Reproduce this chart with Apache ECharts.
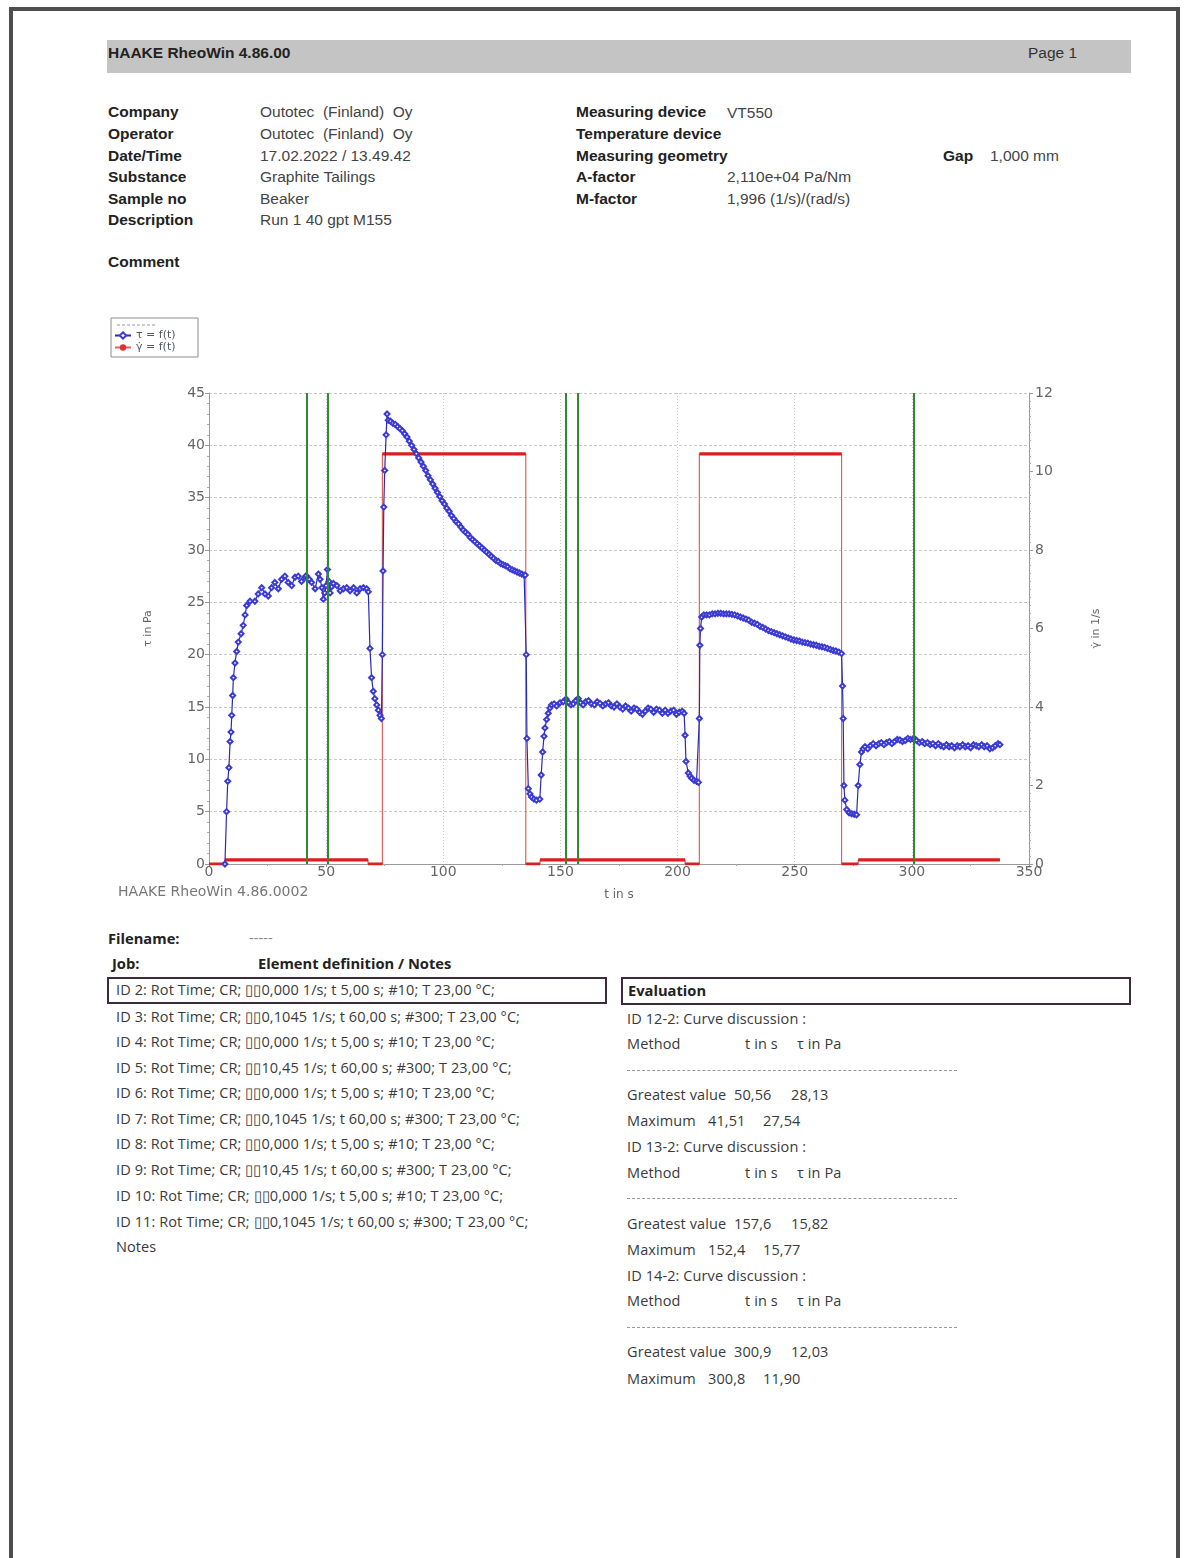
<!DOCTYPE html>
<html>
<head>
<meta charset="utf-8">
<script src="https://cdn.jsdelivr.net/npm/echarts@6/dist/echarts.min.js"></script>
<style>
  html, body { margin:0; padding:0; background:#fff; }
  body { width:1184px; height:1558px; position:relative; overflow:hidden; }
  .frame { position:absolute; left:9px; top:7px; width:1163px; height:1560px; z-index:20; pointer-events:none;
           border-top:4px solid #4e4e4e; border-left:4px solid #4e4e4e; border-right:4px solid #4e4e4e; }
  .t { position:absolute; white-space:pre; line-height:18px; }
  .a { font-family:"Liberation Sans", Arial, sans-serif; font-size:15.5px; color:#444; }
  .ab { font-family:"Liberation Sans", Arial, sans-serif; font-size:15.5px; font-weight:bold; color:#222; }
  .s { font-family:"Open Sans", "Noto Sans", sans-serif; font-size:14.5px; letter-spacing:0.1px; color:#3a3a3a; }
  .sb { font-family:"Open Sans", "Noto Sans", sans-serif; font-size:14.7px; font-weight:bold; color:#222; }
  .hdr { position:absolute; left:107px; top:40px; width:1024px; height:33px; background:#c4c4c4; }
  .box { position:absolute; border:2px solid #3a2c3a; box-sizing:border-box; }
  .dash { position:absolute; height:0; border-top:1px dashed #9a9a9a; }
  #chart { position:absolute; left:0; top:300px; width:1184px; height:610px; }
</style>
</head>
<body>
<div class="frame"></div>
<div class="hdr"></div>
<div class="t ab" style="left:108px;top:44px;">HAAKE RheoWin 4.86.00</div>
<div class="t a" style="left:1028px;top:44px;color:#333;">Page 1</div>

<div class="t ab" style="left:108px;top:103px;">Company</div>
<div class="t ab" style="left:108px;top:125px;">Operator</div>
<div class="t ab" style="left:108px;top:147px;">Date/Time</div>
<div class="t ab" style="left:108px;top:168px;">Substance</div>
<div class="t ab" style="left:108px;top:190px;">Sample no</div>
<div class="t ab" style="left:108px;top:211px;">Description</div>
<div class="t ab" style="left:108px;top:253px;">Comment</div>

<div class="t a" style="left:260px;top:103px;">Outotec  (Finland)  Oy</div>
<div class="t a" style="left:260px;top:125px;">Outotec  (Finland)  Oy</div>
<div class="t a" style="left:260px;top:147px;">17.02.2022 / 13.49.42</div>
<div class="t a" style="left:260px;top:168px;">Graphite Tailings</div>
<div class="t a" style="left:260px;top:190px;">Beaker</div>
<div class="t a" style="left:260px;top:211px;">Run 1 40 gpt M155</div>

<div class="t ab" style="left:576px;top:103px;">Measuring device</div>
<div class="t ab" style="left:576px;top:125px;">Temperature device</div>
<div class="t ab" style="left:576px;top:147px;">Measuring geometry</div>
<div class="t ab" style="left:576px;top:168px;">A-factor</div>
<div class="t ab" style="left:576px;top:190px;">M-factor</div>
<div class="t a" style="left:727px;top:104px;">VT550</div>
<div class="t a" style="left:727px;top:168px;">2,110e+04 Pa/Nm</div>
<div class="t a" style="left:727px;top:190px;">1,996 (1/s)/(rad/s)</div>
<div class="t ab" style="left:943px;top:147px;">Gap</div>
<div class="t a" style="left:990px;top:147px;">1,000 mm</div>

<div id="chart"></div>

<div class="t sb" style="left:108px;top:929px;">Filename:</div>
<div class="t s" style="left:249px;top:929px;color:#888;">-----</div>
<div class="t sb" style="left:112px;top:954px;">Job:</div>
<div class="t sb" style="left:258px;top:954px;">Element definition / Notes</div>

<div class="box" style="left:107px;top:977px;width:500px;height:27px;"></div>
<div class="t s" style="left:116px;top:981px;">ID 2: Rot Time; CR; ▯▯0,000 1/s; t 5,00 s; #10; T 23,00 °C;</div>
<div class="t s" style="left:116px;top:1008px;">ID 3: Rot Time; CR; ▯▯0,1045 1/s; t 60,00 s; #300; T 23,00 °C;</div>
<div class="t s" style="left:116px;top:1033px;">ID 4: Rot Time; CR; ▯▯0,000 1/s; t 5,00 s; #10; T 23,00 °C;</div>
<div class="t s" style="left:116px;top:1059px;">ID 5: Rot Time; CR; ▯▯10,45 1/s; t 60,00 s; #300; T 23,00 °C;</div>
<div class="t s" style="left:116px;top:1084px;">ID 6: Rot Time; CR; ▯▯0,000 1/s; t 5,00 s; #10; T 23,00 °C;</div>
<div class="t s" style="left:116px;top:1110px;">ID 7: Rot Time; CR; ▯▯0,1045 1/s; t 60,00 s; #300; T 23,00 °C;</div>
<div class="t s" style="left:116px;top:1135px;">ID 8: Rot Time; CR; ▯▯0,000 1/s; t 5,00 s; #10; T 23,00 °C;</div>
<div class="t s" style="left:116px;top:1161px;">ID 9: Rot Time; CR; ▯▯10,45 1/s; t 60,00 s; #300; T 23,00 °C;</div>
<div class="t s" style="left:116px;top:1187px;">ID 10: Rot Time; CR; ▯▯0,000 1/s; t 5,00 s; #10; T 23,00 °C;</div>
<div class="t s" style="left:116px;top:1213px;">ID 11: Rot Time; CR; ▯▯0,1045 1/s; t 60,00 s; #300; T 23,00 °C;</div>
<div class="t s" style="left:116px;top:1238px;">Notes</div>

<div class="box" style="left:621px;top:977px;width:510px;height:28px;"></div>
<div class="t sb" style="left:628px;top:981px;">Evaluation</div>

<div class="t s" style="left:627px;top:1010px;">ID 12-2: Curve discussion :</div>
<div class="t s" style="left:627px;top:1035px;">Method</div>
<div class="t s" style="left:745px;top:1035px;">t in s</div>
<div class="t s" style="left:797px;top:1035px;">τ in Pa</div>
<div class="dash" style="left:627px;top:1070px;width:330px;"></div>
<div class="t s" style="left:627px;top:1086px;">Greatest value</div>
<div class="t s" style="left:734px;top:1086px;">50,56</div>
<div class="t s" style="left:791px;top:1086px;">28,13</div>
<div class="t s" style="left:627px;top:1112px;">Maximum</div>
<div class="t s" style="left:708px;top:1112px;">41,51</div>
<div class="t s" style="left:763px;top:1112px;">27,54</div>

<div class="t s" style="left:627px;top:1138px;">ID 13-2: Curve discussion :</div>
<div class="t s" style="left:627px;top:1164px;">Method</div>
<div class="t s" style="left:745px;top:1164px;">t in s</div>
<div class="t s" style="left:797px;top:1164px;">τ in Pa</div>
<div class="dash" style="left:627px;top:1198px;width:330px;"></div>
<div class="t s" style="left:627px;top:1215px;">Greatest value</div>
<div class="t s" style="left:734px;top:1215px;">157,6</div>
<div class="t s" style="left:791px;top:1215px;">15,82</div>
<div class="t s" style="left:627px;top:1241px;">Maximum</div>
<div class="t s" style="left:708px;top:1241px;">152,4</div>
<div class="t s" style="left:763px;top:1241px;">15,77</div>

<div class="t s" style="left:627px;top:1267px;">ID 14-2: Curve discussion :</div>
<div class="t s" style="left:627px;top:1292px;">Method</div>
<div class="t s" style="left:745px;top:1292px;">t in s</div>
<div class="t s" style="left:797px;top:1292px;">τ in Pa</div>
<div class="dash" style="left:627px;top:1327px;width:330px;"></div>
<div class="t s" style="left:627px;top:1343px;">Greatest value</div>
<div class="t s" style="left:734px;top:1343px;">300,9</div>
<div class="t s" style="left:791px;top:1343px;">12,03</div>
<div class="t s" style="left:627px;top:1370px;">Maximum</div>
<div class="t s" style="left:708px;top:1370px;">300,8</div>
<div class="t s" style="left:763px;top:1370px;">11,90</div>

<script>
// ---- data ----
const tauT = [6.8, 7.5, 8.0, 8.5, 9.0, 9.4, 9.7, 10.1, 10.4, 11.1, 11.8, 12.5, 13.7, 14.6, 15.4, 16.1,
  17.5, 19.6, 21.0, 22.5, 23.9, 25.3, 26.7, 28.1, 29.6, 31.0, 32.4, 33.8, 35.3, 36.7, 38.1, 39.5, 41.0, 41.51, 42.8,
  43.8, 45.3, 46.7, 47.4, 48.2, 48.8, 49.4, 50.0, 50.56, 51.2, 51.7, 52.4, 53.1, 54.6, 56.0, 57.4, 58.8, 60.2, 61.7,
  63.1, 64.5, 65.9, 67.3, 68.0,
  68.7, 69.4, 70.1, 70.8, 71.6, 72.3, 73.0, 73.6,
  74.0, 74.3, 74.6, 75.0, 75.6, 76.0, 76.5, 77.5, 78.5, 79.5, 80.5, 81.5, 82.5, 83.5, 84.5, 85.5, 86.5, 87.5, 88.5,
  89.5, 90.5, 91.5, 92.5, 93.5, 94.5, 95.5, 96.5, 97.5, 98.5, 99.5, 100.5, 101.5, 102.5, 103.5, 104.5, 105.5, 106.5,
  107.5, 108.5, 109.5, 110.5, 111.5, 112.5, 113.5, 114.5, 115.5, 116.5, 117.5, 118.5, 119.5, 120.5, 121.5, 122.5,
  123.5, 124.5, 125.5, 126.5, 127.5, 128.5, 129.5, 130.5, 131.5, 132.5, 133.5, 134.5, 135.0,
  135.4, 135.7, 136.3, 137.0, 137.7, 138.7, 139.8, 141.2, 141.8, 142.4, 143.0, 143.4, 144.1, 144.8, 145.5, 146.2,
  147.3, 148.4, 149.8, 151.2, 152.4, 153.5, 154.5, 155.5, 156.5, 157.6, 158.6, 159.7, 160.8, 162.0, 163.2, 164.5,
  165.7, 166.9, 168.1, 169.3, 170.5, 171.7, 172.9, 174.1, 175.4, 176.6, 177.8, 179.0, 180.2, 181.4, 182.6, 183.8,
  185.0, 186.2, 187.4, 188.6, 189.8, 191.0, 192.3, 193.5, 194.7, 195.9, 197.1, 198.3, 199.5, 200.7, 202.0, 202.8,
  203.2, 203.6, 204.6, 205.3, 206.0, 207.0, 208.1, 208.9,
  209.3, 209.5, 209.8, 210.3, 211.2, 212.4, 213.6, 214.8, 216.0, 217.2, 218.4, 219.6, 220.8, 222.0, 223.2, 224.4,
  225.6, 226.8, 228.0, 229.2, 230.4, 231.6, 232.8, 234.0, 235.2, 236.4, 237.6, 238.8, 240.0, 241.2, 242.4, 243.6,
  244.8, 246.0, 247.2, 248.4, 249.6, 250.8, 252.0, 253.2, 254.4, 255.6, 256.8, 258.0, 259.2, 260.4, 261.6, 262.8,
  264.0, 265.2, 266.4, 267.6, 268.8, 270.0,
  270.4, 270.7, 271.0, 271.4, 272.2, 273.2, 274.3, 275.4, 276.4, 277.1, 277.8, 278.5, 279.2, 280.0, 281.2, 282.3,
  283.5, 284.7, 285.9, 287.0, 288.1, 289.2, 290.4, 291.5, 292.6, 293.8, 294.9, 296.0, 297.2, 298.3, 299.4, 300.8,
  300.9, 302.0, 303.2, 304.4, 305.5, 306.7, 307.8, 309.0, 310.1, 311.3, 312.4, 313.6, 314.8, 315.9, 317.0, 318.2,
  319.4, 320.5, 321.7, 322.8, 324.0, 325.1, 326.3, 327.5, 328.6, 329.8, 330.9, 332.1, 333.3, 334.5, 335.6, 336.8, 337.6];
const tauV = [0, 5.0, 7.9, 9.2, 11.7, 12.6, 14.2, 16.1, 17.8, 19.2, 20.3, 21.2, 22.0, 22.8, 23.8, 24.7,
  25.1, 25.1, 25.8, 26.4, 25.8, 25.6, 26.4, 26.9, 26.3, 27.2, 27.5, 26.9, 26.6, 27.4, 27.5, 27.0, 27.4, 27.54, 27.2,
  26.9, 26.3, 27.7, 27.2, 26.4, 25.3, 25.9, 26.6, 28.13, 27.0, 25.9, 26.5, 26.8, 26.6, 26.1, 26.3, 26.4, 26.1, 26.4,
  25.9, 26.3, 26.4, 26.3, 26.0,
  20.6, 17.8, 16.5, 15.8, 15.2, 14.7, 14.2, 13.9,
  20.0, 28.0, 34.1, 37.6, 41.0, 43.0, 42.4, 42.3, 42.1, 42.0, 41.8, 41.6, 41.4, 41.1, 40.8, 40.4, 40.0, 39.6, 39.2,
  38.8, 38.4, 38.0, 37.6, 37.1, 36.7, 36.3, 35.9, 35.5, 35.1, 34.7, 34.4, 34.0, 33.7, 33.3, 33.0, 32.7, 32.5,
  32.2, 31.9, 31.7, 31.5, 31.2, 31.0, 30.8, 30.6, 30.4, 30.2, 30.0, 29.8, 29.6, 29.4, 29.2, 29.0,
  28.9, 28.7, 28.6, 28.5, 28.4, 28.2, 28.1, 28.0, 27.9, 27.8, 27.7, 27.6, 27.6,
  20.0, 12.0, 7.2, 6.7, 6.4, 6.2, 6.1, 6.2, 8.5, 10.7, 12.2, 13.0, 13.8, 14.4, 14.9, 15.2,
  15.3, 15.1, 15.4, 15.5, 15.77, 15.4, 15.2, 15.3, 15.6, 15.82, 15.4, 15.2, 15.5, 15.6, 15.3, 15.2,
  15.5, 15.35, 15.1, 15.3, 15.4, 15.1, 15.0, 15.3, 15.0, 14.8, 15.1, 14.9, 14.6, 14.9, 14.8, 14.5,
  14.3, 14.6, 14.9, 14.8, 14.5, 14.8, 14.7, 14.4, 14.7, 14.4, 14.6, 14.7, 14.3, 14.5, 14.6, 14.4,
  12.3, 9.8, 8.7, 8.4, 8.2, 8.0, 7.9, 7.8,
  13.9, 20.9, 22.5, 23.6, 23.8, 23.8, 23.8, 23.9, 23.9, 23.95, 23.95, 23.9, 23.9, 23.9, 23.85, 23.8,
  23.7, 23.6, 23.5, 23.4, 23.3, 23.1, 23.0, 22.9, 22.7, 22.6, 22.45, 22.3, 22.2, 22.1, 22.0, 21.9,
  21.8, 21.7, 21.6, 21.5, 21.4, 21.35, 21.3, 21.2, 21.15, 21.1, 21.0, 20.95, 20.9, 20.8, 20.75, 20.7,
  20.6, 20.5, 20.4, 20.35, 20.25, 20.1,
  17.0, 13.9, 7.5, 6.1, 5.2, 4.9, 4.8, 4.75, 4.7, 7.5, 9.5, 10.7, 11.0, 11.2, 11.0, 11.3,
  11.5, 11.3, 11.5, 11.6, 11.4, 11.6, 11.7, 11.5, 11.7, 11.9, 11.85, 11.7, 11.8, 12.0, 11.9, 11.90,
  12.03, 11.8, 11.6, 11.7, 11.5, 11.6, 11.4, 11.5, 11.3, 11.5, 11.3, 11.2, 11.4, 11.2, 11.3, 11.1,
  11.3, 11.2, 11.4, 11.2, 11.3, 11.1, 11.4, 11.3, 11.2, 11.4, 11.2, 11.3, 11.0, 11.1, 11.3, 11.5, 11.4];

// shear-rate program segments (s, s, 1/s)
const rateStart = [0, 6.8, 67.9, 74.0, 135.2, 141.3, 203.2, 209.3, 270.0, 277.1];
const rateEnd   = [6.8, 67.9, 74.0, 135.2, 141.3, 203.2, 209.3, 270.0, 277.1, 337.6];
const rateVal   = [0, 0.1045, 0, 10.45, 0, 0.1045, 0, 10.45, 0, 0.1045];

// curve-discussion evaluation times (s)
const evalTimes = [41.51, 50.56, 152.4, 157.6, 300.8, 300.9];

const xTicks = [0, 350, 50];   // min, max, interval
const yLeft  = [0, 45, 5];
const yRight = [0, 12, 2];

// ---- build series data ----
const tauData = tauT.map((t, i) => [t, tauV[i]]);
const rateLine = [];
const ratePlateau = [];
rateStart.forEach((s, i) => {
  rateLine.push([s, rateVal[i]], [rateEnd[i], rateVal[i]]);
  ratePlateau.push([s, rateVal[i]], [rateEnd[i], rateVal[i]], [rateEnd[i], null]);
});

const axisFont = { fontFamily: 'DejaVu Sans', fontSize: 14, color: '#666' };
const gridColor = '#c9c9c9';

const chart = echarts.init(document.getElementById('chart'), null, { renderer: 'canvas' });
chart.setOption({
  animation: false,
  backgroundColor: 'transparent',
  grid: { left: 209, right: 155, top: 93, bottom: 46, containLabel: false },
  legend: {
    data: ['τ = f(t)', 'γ̇ = f(t)'],
    orient: 'vertical', left: 114, top: 30, itemGap: 1, itemWidth: 16, itemHeight: 8,
    padding: 0,
    textStyle: { fontFamily: 'DejaVu Sans', fontSize: 11, color: '#556', lineHeight: 10 }
  },
  xAxis: {
    type: 'value', min: xTicks[0], max: xTicks[1], interval: xTicks[2],
    name: 't in s', nameLocation: 'middle', nameGap: 25,
    nameTextStyle: { fontFamily: 'DejaVu Sans', fontSize: 12, color: '#666' },
    axisLine: { show: true, onZero: false, lineStyle: { color: '#9a9a9a' } },
    axisTick: { show: true, length: 3, lineStyle: { color: '#9a9a9a' } },
    minorTick: { show: true, splitNumber: 2, length: 2, lineStyle: { color: '#aaa' } },
    axisLabel: Object.assign({ margin: 1 }, axisFont),
    splitLine: { show: true, lineStyle: { color: gridColor, type: [1, 2], width: 1 } }
  },
  yAxis: [{
    type: 'value', min: yLeft[0], max: yLeft[1], interval: yLeft[2], position: 'left',
    name: 'τ in Pa', nameLocation: 'middle', nameGap: 55, nameRotate: 90,
    nameTextStyle: { fontFamily: 'DejaVu Sans', fontSize: 11, color: '#666' },
    axisLine: { show: true, lineStyle: { color: '#9a9a9a' } },
    axisTick: { show: true, length: 4, lineStyle: { color: '#9a9a9a' } },
    minorTick: { show: true, splitNumber: 5, length: 2, lineStyle: { color: '#aaa' } },
    axisLabel: Object.assign({ margin: 4 }, axisFont),
    splitLine: { show: true, lineStyle: { color: gridColor, type: [3, 2], width: 1 } }
  }, {
    type: 'value', min: yRight[0], max: yRight[1], interval: yRight[2], position: 'right',
    name: 'γ̇ in 1/s', nameLocation: 'middle', nameGap: 62, nameRotate: 90,
    nameTextStyle: { fontFamily: 'DejaVu Sans', fontSize: 11, color: '#666' },
    axisLine: { show: true, lineStyle: { color: '#9a9a9a' } },
    axisTick: { show: true, length: 4, lineStyle: { color: '#9a9a9a' } },
    minorTick: { show: true, splitNumber: 10, length: 2, lineStyle: { color: '#aaa' } },
    axisLabel: Object.assign({ margin: 6 }, axisFont),
    splitLine: { show: false }
  }],
  series: [{
    name: 'γ̇ = f(t)', type: 'line', yAxisIndex: 1, data: rateLine,
    symbol: 'none', lineStyle: { color: '#e26060', width: 1.2 }, itemStyle: { color: '#e03030' }, z: 2
  }, {
    name: 'γ̇ plateau', type: 'line', yAxisIndex: 1, data: ratePlateau, connectNulls: false,
    symbol: 'none', lineStyle: { color: '#dc1e1e', width: 3.2 }, z: 3
  }, {
    name: 'τ = f(t)', type: 'line', yAxisIndex: 0, data: tauData,
    symbol: 'emptyDiamond', symbolSize: 5, showSymbol: true,
    lineStyle: { color: '#2a2ab8', width: 1.2 },
    itemStyle: { color: '#3b3bd2', borderColor: '#3b3bd2', borderWidth: 1 }, z: 4
  }, {
    name: 'eval', type: 'line', yAxisIndex: 0, data: [], z: 5,
    markLine: {
      silent: true, symbol: ['none', 'none'], label: { show: false },
      lineStyle: { color: '#2f8a2f', width: 2, type: 'solid' },
      data: evalTimes.map(t => ({ xAxis: t }))
    }
  }],
  graphic: [
    { type: 'rect', shape: { x: 111, y: 18, width: 87, height: 39 },
      style: { fill: 'none', stroke: '#8c8c8c', lineWidth: 1 }, z: 10 },
    { type: 'line', shape: { x1: 117, y1: 25, x2: 155, y2: 25 },
      style: { stroke: '#9a9a9a', lineWidth: 1, lineDash: [3, 2] }, z: 10 },
    { type: 'text', left: 118, top: 585,
      style: { text: 'HAAKE RheoWin 4.86.0002', fill: '#777', font: '14px "DejaVu Sans"' }, z: 10 }
  ]
});
</script>
</body>
</html>
